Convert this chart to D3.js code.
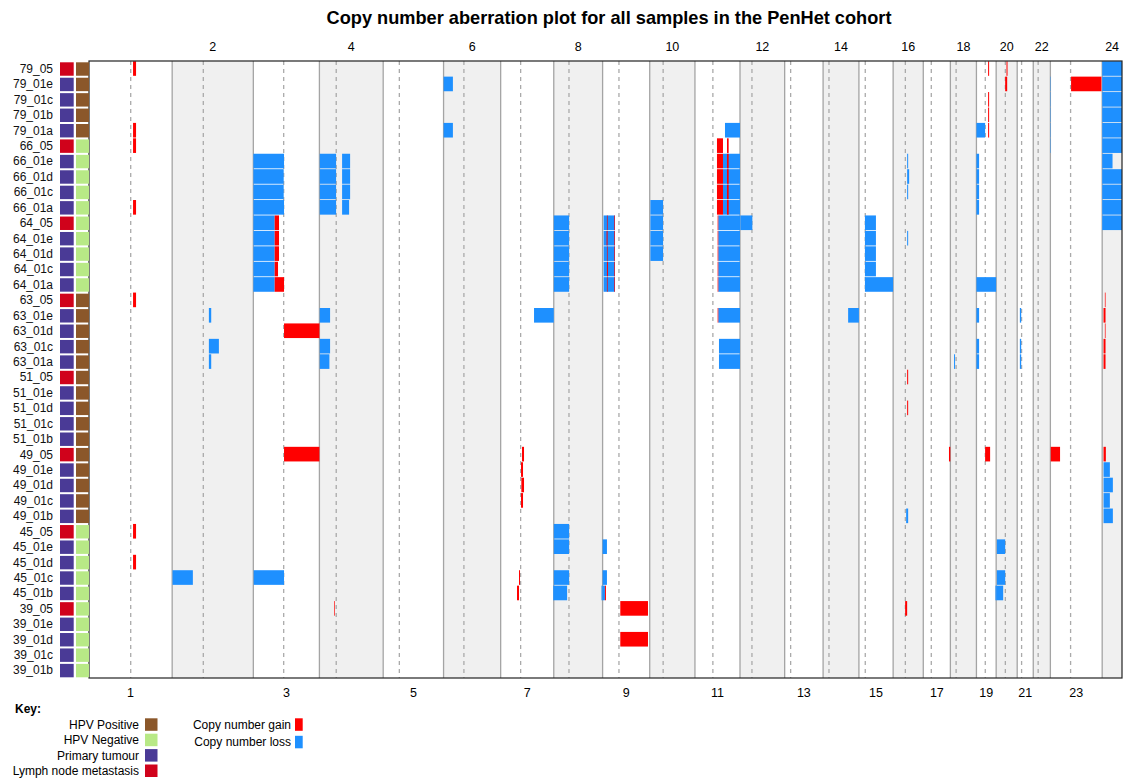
<!DOCTYPE html>
<html>
<head>
<meta charset="utf-8">
<script src="https://cdn.jsdelivr.net/npm/d3@7"></script>
<style>
  body { margin: 0; background: #fff; }
  text { font-family: "Liberation Sans", Arial, Helvetica, sans-serif; }
</style>
</head>
<body>
<svg id="chart" width="1129" height="782"></svg>
<script>
// Chromosomes (23 = X, 24 = Y), lengths and centromere positions in Mb (hg19)
const chromosomes = ["1","2","3","4","5","6","7","8","9","10","11","12","13","14","15","16","17","18","19","20","21","22","23","24"];
const chromLengths = [249.25,243.20,198.02,191.15,180.92,171.12,159.14,146.36,141.21,135.53,135.01,133.85,115.17,107.35,102.53,90.35,81.20,78.08,59.13,63.03,48.13,51.30,155.27,59.37];
const centromeres = [125.0,93.3,91.0,50.4,48.4,61.0,59.9,45.6,49.0,40.2,53.7,35.8,17.9,17.6,19.0,36.6,24.0,17.2,26.5,27.5,13.2,14.7,60.6,null];

// Samples, top to bottom
const samples = ["79_05","79_01e","79_01c","79_01b","79_01a",
                 "66_05","66_01e","66_01d","66_01c","66_01a",
                 "64_05","64_01e","64_01d","64_01c","64_01a",
                 "63_05","63_01e","63_01d","63_01c","63_01a",
                 "51_05","51_01e","51_01d","51_01c","51_01b",
                 "49_05","49_01e","49_01d","49_01c","49_01b",
                 "45_05","45_01e","45_01d","45_01c","45_01b",
                 "39_05","39_01e","39_01d","39_01c","39_01b"];
// LN = lymph node metastasis, PT = primary tumour
const tissueType = ["LN","PT","PT","PT","PT", "LN","PT","PT","PT","PT",
                    "LN","PT","PT","PT","PT", "LN","PT","PT","PT","PT",
                    "LN","PT","PT","PT","PT", "LN","PT","PT","PT","PT",
                    "LN","PT","PT","PT","PT", "LN","PT","PT","PT","PT"];
// HPV status per sample
const hpvStatus = ["pos","pos","pos","pos","pos", "neg","neg","neg","neg","neg",
                   "neg","neg","neg","neg","neg", "pos","pos","pos","pos","pos",
                   "pos","pos","pos","pos","pos", "pos","pos","pos","pos","pos",
                   "neg","neg","neg","neg","neg", "neg","neg","neg","neg","neg"];

// Copy number gains: [sample, chromosome, start Mb, end Mb]
const gains = [
  ["79_05","1",132,141],["79_05","19",35,38],["79_05","20",31,34],
  ["79_01e","20",27,33],["79_01e","23",62,153],
  ["79_01c","19",35,38],["79_01b","19",35,38],
  ["79_01a","1",132,141],["79_01a","19",35,38],
  ["66_05","1",132,141],["66_05","11",66,84],["66_05","11",96,101],
  ["66_01e","11",66,84],["66_01e","11",96,101],
  ["66_01d","11",66,84],["66_01d","11",96,101],
  ["66_01c","11",66,84],["66_01c","11",96,101],
  ["66_01a","1",132,141],["66_01a","11",66,84],["66_01a","11",96,101],
  ["64_05","3",64,77],["64_05","9",13,15],["64_05","9",35,37],["64_05","11",68,70],
  ["64_01e","3",64,77],["64_01e","9",12,15],["64_01e","9",35,37],["64_01e","11",68,70],
  ["64_01d","3",64,77],["64_01d","9",13,15],["64_01d","9",35,37],["64_01d","11",68,70],
  ["64_01c","3",64,74],["64_01c","9",13,16],["64_01c","9",35,37],["64_01c","11",68,70],
  ["64_01a","3",64,92],["64_01a","9",13,15],["64_01a","9",35,37],["64_01a","11",68,70],
  ["63_05","1",132,141],["63_05","24",8,10],
  ["63_01e","11",68,70],["63_01e","24",4,10],
  ["63_01d","3",92,198],["63_01d","24",8,10],
  ["63_01c","24",4,10],["63_01a","24",4,10],
  ["51_05","16",42,45],["51_01d","16",42,45],
  ["49_05","3",92,198],["49_05","7",64,70],["49_05","17",77,81],["49_05","19",26,41],["49_05","23",1,29],["49_05","24",4,11],
  ["49_01e","7",61,67],["49_01d","7",62,70],["49_01c","7",61,67],
  ["45_05","1",132,141],["45_01d","1",132,141],
  ["45_01c","7",55,58],
  ["45_01b","7",49,55],["45_01b","9",7,10],
  ["39_05","4",44,46],["39_05","9",53,136],["39_05","16",36,42],
  ["39_01d","9",53,136]
];

// Copy number losses: [sample, chromosome, start Mb, end Mb]
const losses = [
  ["79_05","24",0,59.37],
  ["79_01e","6",0,28],["79_01e","22",50.8,51.3],["79_01e","24",0,59.37],
  ["79_01c","22",50.8,51.3],["79_01c","24",0,59.37],
  ["79_01b","22",50.8,51.3],["79_01b","24",0,59.37],
  ["79_01a","6",0,28],["79_01a","11",90,135],["79_01a","19",0,26],["79_01a","22",50.8,51.3],["79_01a","24",0,59.37],
  ["66_05","22",50.8,51.3],["66_05","24",0,59.37],
  ["66_01e","3",0,92],["66_01e","4",1,50],["66_01e","4",68,92],["66_01e","11",84,135],["66_01e","16",42,45],["66_01e","19",0,8],["66_01e","24",0,31],
  ["66_01d","3",0,91],["66_01d","4",1,50],["66_01d","4",68,92],["66_01d","11",84,135],["66_01d","16",42,48],["66_01d","19",0,8],["66_01d","24",0,59.37],
  ["66_01c","3",0,91],["66_01c","4",1,50],["66_01c","4",68,92],["66_01c","11",84,135],["66_01c","16",42,45],["66_01c","19",0,8],["66_01c","24",0,59.37],
  ["66_01a","3",0,92],["66_01a","4",1,50],["66_01a","4",68,89],["66_01a","10",2,40],["66_01a","11",84,135],["66_01a","19",0,8],["66_01a","24",0,59.37],
  ["64_05","3",0,64],["64_05","8",0,46],["64_05","9",3,37],["64_05","10",2,40],["64_05","11",70,135],["64_05","12",1,37],["64_05","15",18,51],["64_05","24",0,59.37],
  ["64_01e","3",0,64],["64_01e","8",0,46],["64_01e","9",3,37],["64_01e","10",2,40],["64_01e","11",70,135],["64_01e","15",18,51],["64_01e","16",42,45],
  ["64_01d","3",0,64],["64_01d","8",0,46],["64_01d","9",3,37],["64_01d","10",2,40],["64_01d","11",70,135],["64_01d","15",18,51],
  ["64_01c","3",0,64],["64_01c","8",0,46],["64_01c","9",3,37],["64_01c","11",70,135],["64_01c","15",18,51],
  ["64_01a","3",0,64],["64_01a","8",0,46],["64_01a","9",3,37],["64_01a","11",70,135],["64_01a","15",18,102.5],["64_01a","19",0,59.13],
  ["63_01e","2",110,117],["63_01e","4",1,32],["63_01e","7",100,159.14],["63_01e","11",70,135],["63_01e","14",75,107.35],["63_01e","19",0,8],["63_01e","21",8,12],
  ["63_01c","2",110,140],["63_01c","4",1,32],["63_01c","11",72,135],["63_01c","19",0,8],["63_01c","21",8,12],
  ["63_01a","2",110,117],["63_01a","4",1,30],["63_01a","11",72,135],["63_01a","18",11,14],["63_01a","19",0,8],["63_01a","21",8,12],
  ["49_01e","24",4,23],["49_01d","24",4,32],["49_01c","24",4,23],
  ["49_01b","16",39,45],["49_01b","24",4,32],
  ["45_05","8",0,46],
  ["45_01e","8",0,46],["45_01e","9",0,13],["45_01e","20",2,27],
  ["45_01c","2",1,62],["45_01c","3",1,92],["45_01c","8",0,46],["45_01c","9",0,13],["45_01c","20",2,27],
  ["45_01b","7",157,159.14],["45_01b","8",0,40],["45_01b","8",143,146.36],["45_01b","9",0,7],["45_01b","19",57,59.13],["45_01b","20",0,21]
];

const keyStatus = [
  {label:"HPV Positive", color:"#8b572a"},
  {label:"HPV Negative", color:"#b8e986"},
  {label:"Primary tumour", color:"#4a3a96"},
  {label:"Lymph node metastasis", color:"#d0021b"}
];
const keyCopy = [
  {label:"Copy number gain", color:"#ff0000"},
  {label:"Copy number loss", color:"#1e90ff"}
];

const svg = d3.select("#chart");
const plot = {left: 89, right: 1122, top: 61, bottom: 678};

const ends = d3.cumsum(chromLengths);
const starts = chromLengths.map((d, i) => ends[i] - d);
const total = ends[ends.length - 1];

const x = d3.scaleLinear().domain([0, total]).range([plot.left, plot.right]);
const y = d3.scaleBand().domain(samples).range([plot.top, plot.bottom]);
const gpos = (c, mb) => x(starts[chromosomes.indexOf(c)] + mb);

// Title
svg.append("text")
  .attr("x", 609).attr("y", 24)
  .attr("text-anchor", "middle")
  .style("font-size", "18.2px").style("font-weight", "bold")
  .text("Copy number aberration plot for all samples in the PenHet cohort");

// Alternate shading of even chromosomes
svg.append("g").selectAll("rect")
  .data(chromosomes.filter((c, i) => i % 2 === 1))
  .join("rect")
  .attr("x", c => x(starts[chromosomes.indexOf(c)]))
  .attr("width", c => x(ends[chromosomes.indexOf(c)]) - x(starts[chromosomes.indexOf(c)]))
  .attr("y", plot.top).attr("height", plot.bottom - plot.top)
  .attr("fill", "#f0f0f0");

// Centromere lines
svg.append("g").selectAll("line")
  .data(chromosomes.filter((c, i) => centromeres[i] !== null))
  .join("line")
  .attr("x1", c => gpos(c, centromeres[chromosomes.indexOf(c)]))
  .attr("x2", c => gpos(c, centromeres[chromosomes.indexOf(c)]))
  .attr("y1", plot.top).attr("y2", plot.bottom)
  .attr("stroke", "#aaaaaa").attr("stroke-width", 1.3)
  .attr("stroke-dasharray", "4,4");

// Chromosome boundaries
svg.append("g").selectAll("line")
  .data(chromosomes.slice(1))
  .join("line")
  .attr("x1", c => x(starts[chromosomes.indexOf(c)]))
  .attr("x2", c => x(starts[chromosomes.indexOf(c)]))
  .attr("y1", plot.top).attr("y2", plot.bottom)
  .attr("stroke", "#a4a4a4").attr("stroke-width", 1.3);

// Segments: losses first, gains on top
const bh = y.bandwidth();
function drawSegments(data, color) {
  svg.append("g").selectAll("rect")
    .data(data)
    .join("rect")
    .attr("x", d => gpos(d[1], d[2]))
    .attr("width", d => Math.max(0.4, gpos(d[1], d[3]) - gpos(d[1], d[2])))
    .attr("y", d => y(d[0]) + 0.2)
    .attr("height", bh - 0.8)
    .attr("fill", color);
}
drawSegments(losses, keyCopy[1].color);
drawSegments(gains, keyCopy[0].color);

// Plot frame
svg.append("rect")
  .attr("x", plot.left).attr("y", plot.top)
  .attr("width", plot.right - plot.left).attr("height", plot.bottom - plot.top)
  .attr("fill", "none").attr("stroke", "#222").attr("stroke-width", 1.2);

// Chromosome labels: even on top, odd below
svg.append("g").selectAll("text")
  .data(chromosomes)
  .join("text")
  .attr("x", (c, i) => x((starts[i] + ends[i]) / 2))
  .attr("y", (c, i) => i % 2 === 1 ? 51 : 697)
  .attr("text-anchor", "middle")
  .style("font-size", "12.5px")
  .text(c => c);

// Sample labels and status boxes
const rows = svg.append("g").selectAll("g")
  .data(samples)
  .join("g");
rows.append("text")
  .attr("x", 53)
  .attr("y", s => y(s) + bh / 2 + 4.2)
  .attr("text-anchor", "end")
  .style("font-size", "12px")
  .attr("fill", "#111")
  .text(s => s);
rows.append("rect")
  .attr("x", 60).attr("width", 13.7)
  .attr("y", s => y(s) + 1.3).attr("height", bh - 2)
  .attr("fill", (s, i) => tissueType[i] === "LN" ? keyStatus[3].color : keyStatus[2].color);
rows.append("rect")
  .attr("x", 76).attr("width", 13)
  .attr("y", s => y(s) + 1.3).attr("height", bh - 2)
  .attr("fill", (s, i) => hpvStatus[i] === "pos" ? keyStatus[0].color : keyStatus[1].color);

// Key
svg.append("text").attr("x", 15).attr("y", 713)
  .style("font-size", "12px").style("font-weight", "bold").text("Key:");
const ks = svg.append("g").selectAll("g").data(keyStatus).join("g")
  .attr("transform", (d, i) => `translate(0, ${718.3 + i * 15.4})`);
ks.append("text").attr("x", 139).attr("y", 10.5)
  .attr("text-anchor", "end").style("font-size", "12px").text(d => d.label);
ks.append("rect").attr("x", 145).attr("width", 12.5).attr("height", 12.5)
  .attr("fill", d => d.color);

const kc = svg.append("g").selectAll("g").data(keyCopy).join("g")
  .attr("transform", (d, i) => `translate(0, ${718.3 + i * 17.5})`);
kc.append("text").attr("x", 291).attr("y", 10.5)
  .attr("text-anchor", "end").style("font-size", "12px").text(d => d.label);
kc.append("rect").attr("x", 295).attr("width", 7.7).attr("height", 12.5)
  .attr("fill", d => d.color);
</script>
</body>
</html>
